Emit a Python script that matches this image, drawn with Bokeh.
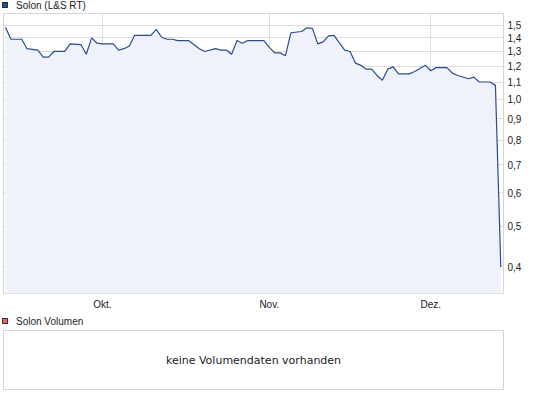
import calendar
from datetime import datetime

from bokeh.plotting import figure
from bokeh.layouts import column
from bokeh.models import (Range1d, FixedTicker, CustomJSTickFormatter, Label, Div)
from bokeh.embed import file_html
from bokeh.resources import INLINE

# ---------------- data ----------------
dates = [
    "2011-09-13", "2011-09-14", "2011-09-16", "2011-09-17", "2011-09-19", "2011-09-20",
    "2011-09-21", "2011-09-22", "2011-09-24", "2011-09-25", "2011-09-27", "2011-09-28",
    "2011-09-29", "2011-09-30", "2011-10-01", "2011-10-03", "2011-10-04", "2011-10-05",
    "2011-10-06", "2011-10-07", "2011-10-09", "2011-10-10", "2011-10-11", "2011-10-12",
    "2011-10-13", "2011-10-14", "2011-10-15", "2011-10-17", "2011-10-19", "2011-10-20",
    "2011-10-22", "2011-10-23", "2011-10-24", "2011-10-25", "2011-10-26", "2011-10-27",
    "2011-10-28", "2011-10-31", "2011-11-01", "2011-11-02", "2011-11-03", "2011-11-04",
    "2011-11-05", "2011-11-07", "2011-11-08", "2011-11-09", "2011-11-10", "2011-11-11",
    "2011-11-12", "2011-11-13", "2011-11-15", "2011-11-16", "2011-11-17", "2011-11-18",
    "2011-11-19", "2011-11-20", "2011-11-21", "2011-11-22", "2011-11-23", "2011-11-24",
    "2011-11-25", "2011-11-27", "2011-11-28", "2011-11-30", "2011-12-01", "2011-12-02",
    "2011-12-04", "2011-12-05", "2011-12-06", "2011-12-08", "2011-12-09", "2011-12-10",
    "2011-12-12", "2011-12-13", "2011-12-14",
]
prices = [
    1.485, 1.39, 1.39, 1.32, 1.31, 1.26,
    1.26, 1.30, 1.30, 1.355, 1.35, 1.28,
    1.40, 1.36, 1.355, 1.355, 1.31, 1.32,
    1.34, 1.42, 1.42, 1.42, 1.467, 1.405,
    1.39, 1.39, 1.38, 1.38, 1.32, 1.30,
    1.32, 1.31, 1.31, 1.28, 1.38, 1.36,
    1.38, 1.38, 1.33, 1.29, 1.29, 1.27,
    1.44, 1.45, 1.48, 1.475, 1.355, 1.37,
    1.415, 1.42, 1.31, 1.30, 1.22, 1.205,
    1.18, 1.18, 1.14, 1.11, 1.18, 1.195,
    1.15, 1.15, 1.165, 1.205, 1.17, 1.19,
    1.19, 1.155, 1.14, 1.12, 1.13, 1.10,
    1.10, 1.08, 0.40,
]
price_ticks = [0.4, 0.5, 0.6, 0.7, 0.8, 0.9, 1.0, 1.1, 1.2, 1.3, 1.4, 1.5]
month_ticks = ["2011-10-01", "2011-11-01", "2011-12-01"]
month_labels = ["Okt.", "Nov.", "Dez."]
series_name = "Solon (L&amp;S RT)"
volume_name = "Solon Volumen"
volume_message = "keine Volumendaten vorhanden"

# ---------------- styling ----------------
LINE = "#2c4b8c"
FILL = "#eff2fa"
GRID = "#dddddd"
FRAME = "#d4d4d4"
TEXT = "#222222"
FONT = "Liberation Sans"
W = 530

x = [datetime.strptime(d, "%Y-%m-%d") for d in dates]


def to_ms(s):
    return calendar.timegm(datetime.strptime(s, "%Y-%m-%d").timetuple()) * 1000


tick_ms = [to_ms(s) for s in month_ticks]


def legend_div(name, fill, border, height, top):
    html = (
        f'<div style="position:relative;width:{W}px;height:{height}px;'
        f"font-family:'{FONT}';font-size:10px;color:{TEXT};\">"
        f'<span style="position:absolute;left:2px;top:{top}px;width:6px;height:6px;'
        f'background:{fill};border:1px solid {border};"></span>'
        f'<span style="position:absolute;left:16px;top:{top - 2}px;line-height:12px;'
        f'white-space:nowrap;">{name}</span></div>'
    )
    return Div(text=html, width=W, height=height, margin=0)


# ---------------- price panel ----------------
p = figure(width=W, height=303, output_backend="svg", toolbar_location=None,
           x_axis_type="datetime", y_axis_type="log", y_axis_location="right",
           x_range=Range1d(datetime(2011, 9, 12, 15), datetime(2011, 12, 14, 12)),
           y_range=Range1d(0.346, 1.60),
           min_border_left=3, min_border_top=1, min_border_bottom=22,
           min_border_right=W - 503, margin=0)
p.outline_line_color = FRAME
p.background_fill_color = "white"
p.border_fill_color = "white"

p.varea(x=x, y1=0.3, y2=prices, fill_color=FILL)
p.line(x=x, y=prices, line_color=LINE, line_width=1.2)

xa = p.xaxis[0]
xa.ticker = FixedTicker(ticks=tick_ms)
xa.major_label_overrides = dict(zip(tick_ms, month_labels))
ya = p.yaxis[0]
ya.ticker = FixedTicker(ticks=price_ticks)
ya.formatter = CustomJSTickFormatter(code="return tick.toFixed(1).replace('.', ',');")
for ax in (xa, ya):
    ax.axis_line_color = None
    ax.major_tick_line_color = None
    ax.minor_tick_line_color = None
    ax.major_tick_out = 0
    ax.major_tick_in = 0
    ax.major_label_text_font = FONT
    ax.major_label_text_font_size = "10px"
    ax.major_label_text_color = TEXT
    ax.major_label_standoff = 5
ya.major_label_standoff = 4
p.grid.grid_line_color = GRID
p.grid.grid_line_width = 1

# ---------------- volume panel ----------------
p2 = figure(width=W, height=62, output_backend="svg", toolbar_location=None,
            x_range=Range1d(0, 1), y_range=Range1d(0, 1),
            x_axis_location=None, y_axis_location=None,
            min_border_left=3, min_border_top=1, min_border_bottom=2,
            min_border_right=W - 503, margin=0)
p2.outline_line_color = FRAME
p2.grid.grid_line_color = None
p2.add_layout(Label(x=0.5, y=0.5, text=volume_message, text_align="center",
                    text_baseline="middle", text_font="DejaVu Sans",
                    text_font_size="11px", text_color=TEXT))

layout = column(
    legend_div(series_name, LINE, "#1c2c50", 12, 2),
    p,
    legend_div(volume_name, "#d9686a", "#5a2a2a", 14, 3),
    p2,
    spacing=0,
)

open("out.html", "w").write(file_html(layout, INLINE))
